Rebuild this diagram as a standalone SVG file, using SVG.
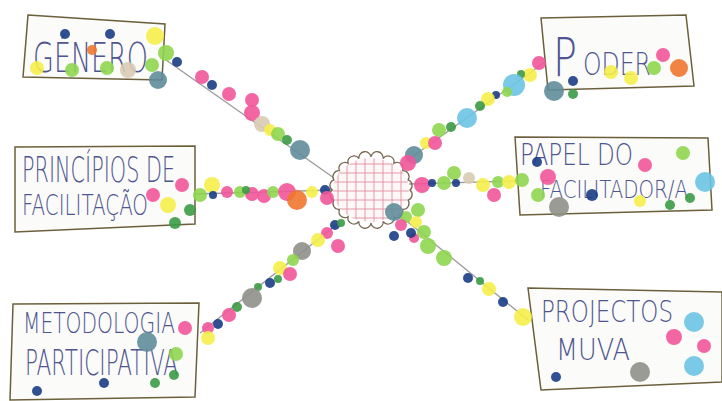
<svg xmlns="http://www.w3.org/2000/svg" width="722" height="401" viewBox="0 0 722 401">
<style>
.box{fill:#fbfbf9;stroke:#6b5f3c;stroke-width:1.5}
.t{font-family:"DejaVu Sans","Liberation Sans",sans-serif;font-weight:200;fill:#4f5590}
.ln{stroke:#9a9a9a;stroke-width:1.3;fill:none}
.pk{fill:#f2559a}.gr{fill:#8fd64f}.ye{fill:#f4ee4a}.nv{fill:#1b3d86}.tl{fill:#5f8c9a}
.lb{fill:#6cc3e3}.or{fill:#f0762f}.bg{fill:#d9cbb4}.dg{fill:#3b9b45}.gy{fill:#8f9088}
.dots circle{opacity:0.9}
.grid line{stroke:#e58f9e;stroke-width:0.9}
</style>
<defs>
<clipPath id="cc"><ellipse cx="371" cy="190" rx="38" ry="32"/></clipPath>
</defs>
<rect width="722" height="401" fill="#ffffff"/>

<g id="connectors">
<line class="ln" x1="166" y1="60" x2="334" y2="178"/>
<line class="ln" x1="545" y1="62" x2="405" y2="162"/>
<line class="ln" x1="195" y1="194" x2="333" y2="190"/>
<line class="ln" x1="409" y1="184" x2="517" y2="181"/>
<line class="ln" x1="200" y1="333" x2="340" y2="222"/>
<line class="ln" x1="398" y1="214" x2="528" y2="320"/>
</g>

<g id="center">
<g clip-path="url(#cc)" class="grid">
<rect x="330" y="155" width="84" height="72" fill="#fcf8f8"/>
<line x1="338" y1="150" x2="338" y2="230"/><line x1="347" y1="150" x2="347" y2="230"/><line x1="356" y1="150" x2="356" y2="230"/><line x1="365" y1="150" x2="365" y2="230"/><line x1="374" y1="150" x2="374" y2="230"/><line x1="383" y1="150" x2="383" y2="230"/><line x1="392" y1="150" x2="392" y2="230"/><line x1="401" y1="150" x2="401" y2="230"/>
<line x1="325" y1="164" x2="420" y2="164"/><line x1="325" y1="173" x2="420" y2="173"/><line x1="325" y1="182" x2="420" y2="182"/><line x1="325" y1="191" x2="420" y2="191"/><line x1="325" y1="200" x2="420" y2="200"/><line x1="325" y1="209" x2="420" y2="209"/><line x1="325" y1="218" x2="420" y2="218"/>
</g>
<path d="M410,190 A6,6 0 0 1 408.1,200.2 A6,6 0 0 1 402.6,209.4 A6,6 0 0 1 393.9,216.7 A6,6 0 0 1 383.1,221.4 A6,6 0 0 1 371,223 A6,6 0 0 1 358.9,221.4 A6,6 0 0 1 348.1,216.7 A6,6 0 0 1 339.4,209.4 A6,6 0 0 1 333.9,200.2 A6,6 0 0 1 332,190 A6,6 0 0 1 333.9,179.8 A6,6 0 0 1 339.4,170.6 A6,6 0 0 1 348.1,163.3 A6,6 0 0 1 358.9,158.6 A6,6 0 0 1 371,157 A6,6 0 0 1 383.1,158.6 A6,6 0 0 1 393.9,163.3 A6,6 0 0 1 402.6,170.6 A6,6 0 0 1 408.1,179.8 A6,6 0 0 1 410,190 Z" fill="none" stroke="#7a6a55" stroke-width="1.3"/>
</g>

<g id="genero">
<polygon class="box" points="28,15 165,24 162,80 23,77"/>
<text class="t" x="33" y="72" font-size="40" textLength="115" lengthAdjust="spacingAndGlyphs">GÉNERO</text>
</g>
<g id="poder">
<polygon class="box" points="541,18 686,15 694,86 548,90"/>
<text class="t" x="553" y="76" font-size="54" textLength="24" lengthAdjust="spacingAndGlyphs">P</text>
<text class="t" x="583" y="75" font-size="32" textLength="68" lengthAdjust="spacingAndGlyphs">ODER</text>
</g>
<g id="principios">
<polygon class="box" points="15,147 195,146 195,224 15,232"/>
<text class="t" x="22" y="182" font-size="35" textLength="153" lengthAdjust="spacingAndGlyphs">PRINCÍPIOS DE</text>
<text class="t" x="22" y="215" font-size="28" textLength="126" lengthAdjust="spacingAndGlyphs">FACILITAÇÃO</text>
</g>
<g id="papel">
<polygon class="box" points="515,137 708,138 712,210 520,215"/>
<text class="t" x="520" y="165" font-size="30" textLength="113" lengthAdjust="spacingAndGlyphs">PAPEL  DO</text>
<text class="t" x="540" y="198" font-size="24" textLength="148" lengthAdjust="spacingAndGlyphs">FACILITADOR/A</text>
</g>
<g id="metodologia">
<polygon class="box" points="13,304 199,303 195,397 10,400"/>
<text class="t" x="23" y="333" font-size="28" textLength="152" lengthAdjust="spacingAndGlyphs">METODOLOGIA</text>
<text class="t" x="25" y="375" font-size="35" textLength="153" lengthAdjust="spacingAndGlyphs">PARTICIPATIVA</text>
</g>
<g id="projectos">
<polygon class="box" points="528,288 722,292 722,382 541,390"/>
<text class="t" x="541" y="322" font-size="31" textLength="132" lengthAdjust="spacingAndGlyphs">PROJECTOS</text>
<text class="t" x="556" y="360" font-size="30" textLength="74" lengthAdjust="spacingAndGlyphs">MUVA</text>
</g>

<g id="dots" class="dots">
<circle class="nv" cx="65" cy="34" r="5"/><circle class="nv" cx="110" cy="34" r="5"/>
<circle class="ye" cx="155" cy="36" r="9"/><circle class="or" cx="92" cy="50" r="5"/>
<circle class="ye" cx="37" cy="68" r="7"/><circle class="gr" cx="72" cy="70" r="7"/>
<circle class="gr" cx="107" cy="68" r="7"/><circle class="bg" cx="128" cy="70" r="8"/>
<circle class="gr" cx="152" cy="65" r="7"/><circle class="gr" cx="166" cy="53" r="8"/>
<circle class="tl" cx="158" cy="80" r="9"/>
<circle class="nv" cx="177" cy="62" r="5"/><circle class="pk" cx="202" cy="77" r="7"/>
<circle class="nv" cx="212" cy="85" r="5"/><circle class="pk" cx="229" cy="94" r="7"/>
<circle class="pk" cx="252" cy="100" r="7"/><circle class="pk" cx="252" cy="113" r="8"/>
<circle class="bg" cx="262" cy="124" r="8"/><circle class="ye" cx="270" cy="130" r="6"/>
<circle class="gr" cx="278" cy="134" r="7"/><circle class="dg" cx="287" cy="140" r="5"/>
<circle class="tl" cx="300" cy="150" r="10"/>
<circle class="pk" cx="182" cy="185" r="7"/><circle class="pk" cx="153" cy="195" r="7"/>
<circle class="ye" cx="168" cy="205" r="8"/><circle class="dg" cx="190" cy="210" r="6"/>
<circle class="dg" cx="175" cy="223" r="6"/><circle class="gr" cx="200" cy="195" r="7"/>
<circle class="ye" cx="212" cy="185" r="8"/><circle class="nv" cx="213" cy="195" r="4"/>
<circle class="pk" cx="227" cy="192" r="6"/><circle class="gr" cx="240" cy="192" r="6"/>
<circle class="pk" cx="252" cy="194" r="7"/><circle class="dg" cx="246" cy="190" r="4"/>
<circle class="pk" cx="264" cy="196" r="7"/><circle class="gr" cx="273" cy="192" r="6"/>
<circle class="pk" cx="287" cy="192" r="9"/><circle class="or" cx="297" cy="200" r="10"/>
<circle class="ye" cx="312" cy="192" r="6"/><circle class="nv" cx="325" cy="190" r="5"/>
<circle class="pk" cx="327" cy="198" r="7"/>
<circle class="pk" cx="539" cy="63" r="7"/><circle class="ye" cx="530" cy="75" r="7"/>
<circle class="dg" cx="521" cy="74" r="4"/><circle class="lb" cx="514" cy="85" r="11"/>
<circle class="gr" cx="507" cy="92" r="5"/><circle class="nv" cx="496" cy="95" r="4"/>
<circle class="ye" cx="488" cy="99" r="7"/><circle class="dg" cx="480" cy="106" r="5"/>
<circle class="lb" cx="467" cy="118" r="10"/><circle class="dg" cx="451" cy="127" r="5"/>
<circle class="gr" cx="439" cy="130" r="7"/><circle class="ye" cx="426" cy="143" r="6"/>
<circle class="pk" cx="435" cy="143" r="7"/><circle class="tl" cx="414" cy="155" r="9"/>
<circle class="pk" cx="408" cy="163" r="8"/>
<circle class="pk" cx="663" cy="55" r="7"/><circle class="or" cx="679" cy="68" r="9"/>
<circle class="gr" cx="654" cy="68" r="7"/><circle class="ye" cx="611" cy="72" r="7"/>
<circle class="ye" cx="631" cy="78" r="7"/><circle class="nv" cx="573" cy="81" r="5"/>
<circle class="tl" cx="554" cy="91" r="10"/><circle class="dg" cx="573" cy="94" r="5"/>
<circle class="pk" cx="422" cy="185" r="8"/><circle class="nv" cx="432" cy="183" r="4"/>
<circle class="gr" cx="444" cy="183" r="7"/><circle class="gr" cx="454" cy="173" r="7"/>
<circle class="nv" cx="456" cy="183" r="4"/><circle class="bg" cx="469" cy="178" r="6"/>
<circle class="ye" cx="483" cy="185" r="7"/><circle class="gr" cx="498" cy="182" r="6"/>
<circle class="ye" cx="509" cy="182" r="7"/><circle class="gr" cx="522" cy="180" r="7"/>
<circle class="pk" cx="494" cy="195" r="7"/>
<circle class="nv" cx="537" cy="162" r="5"/><circle class="pk" cx="645" cy="165" r="7"/>
<circle class="gr" cx="683" cy="153" r="7"/><circle class="pk" cx="548" cy="177" r="8"/>
<circle class="lb" cx="705" cy="182" r="10"/><circle class="gr" cx="538" cy="195" r="7"/>
<circle class="gy" cx="559" cy="207" r="10"/><circle class="nv" cx="592" cy="195" r="6"/>
<circle class="ye" cx="640" cy="201" r="6"/><circle class="dg" cx="670" cy="205" r="5"/>
<circle class="dg" cx="690" cy="198" r="5"/>
<circle class="gr" cx="418" cy="210" r="7"/><circle class="gr" cx="406" cy="217" r="6"/>
<circle class="ye" cx="416" cy="222" r="6"/><circle class="pk" cx="401" cy="225" r="6"/>
<circle class="nv" cx="394" cy="236" r="5"/><circle class="pk" cx="414" cy="238" r="5"/>
<circle class="nv" cx="411" cy="233" r="5"/><circle class="gr" cx="424" cy="232" r="7"/>
<circle class="gr" cx="428" cy="246" r="8"/><circle class="gr" cx="444" cy="258" r="8"/>
<circle class="nv" cx="468" cy="278" r="5"/><circle class="dg" cx="480" cy="281" r="4"/>
<circle class="ye" cx="489" cy="289" r="7"/><circle class="nv" cx="503" cy="302" r="5"/>
<circle class="ye" cx="523" cy="317" r="9"/>
<circle class="tl" cx="394" cy="212" r="9"/>
<circle class="lb" cx="694" cy="322" r="10"/><circle class="pk" cx="674" cy="337" r="8"/>
<circle class="pk" cx="704" cy="346" r="7"/><circle class="lb" cx="694" cy="366" r="10"/>
<circle class="gy" cx="640" cy="372" r="10"/><circle class="nv" cx="556" cy="377" r="5"/>
<circle class="nv" cx="335" cy="225" r="5"/><circle class="dg" cx="341" cy="223" r="4"/>
<circle class="pk" cx="327" cy="233" r="6"/><circle class="ye" cx="318" cy="240" r="7"/>
<circle class="pk" cx="338" cy="246" r="7"/><circle class="gy" cx="302" cy="251" r="9"/>
<circle class="gr" cx="293" cy="260" r="6"/><circle class="ye" cx="280" cy="268" r="7"/>
<circle class="pk" cx="290" cy="274" r="7"/><circle class="dg" cx="278" cy="279" r="4"/>
<circle class="nv" cx="270" cy="283" r="5"/><circle class="dg" cx="258" cy="287" r="4"/>
<circle class="gy" cx="252" cy="298" r="10"/><circle class="dg" cx="237" cy="307" r="5"/>
<circle class="pk" cx="229" cy="315" r="7"/><circle class="nv" cx="218" cy="324" r="5"/>
<circle class="pk" cx="208" cy="328" r="6"/><circle class="ye" cx="208" cy="338" r="7"/>
<circle class="pk" cx="185" cy="328" r="7"/><circle class="tl" cx="147" cy="342" r="10"/>
<circle class="gr" cx="176" cy="354" r="7"/><circle class="dg" cx="174" cy="375" r="5"/>
<circle class="dg" cx="155" cy="383" r="5"/><circle class="nv" cx="104" cy="383" r="5"/>
<circle class="nv" cx="37" cy="391" r="5"/>
</g>
</svg>
